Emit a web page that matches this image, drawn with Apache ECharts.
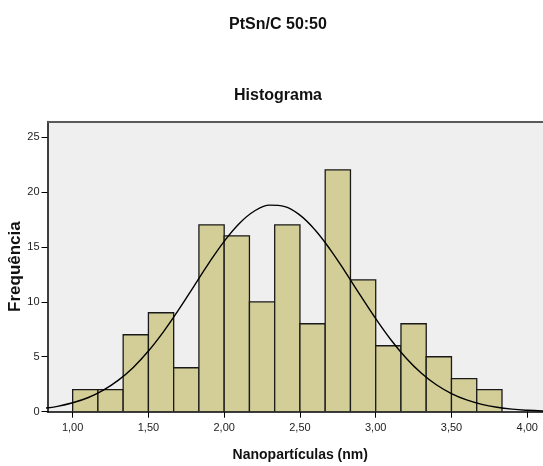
<!DOCTYPE html>
<html><head><meta charset="utf-8">
<script src="https://cdn.jsdelivr.net/npm/echarts@6/dist/echarts.min.js"></script>
<style>html,body{margin:0;padding:0;background:#fff}#c{width:543px;height:466px}</style>
</head><body><div id="c"></div>
<script>
const binStarts = [1.0000,1.1667,1.3333,1.5000,1.6667,1.8333,2.0000,2.1667,2.3333,2.5000,2.6667,2.8333,3.0000,3.1667,3.3333,3.5000,3.6667];
const binWidth = 0.1667;
const frequencies = [2,2,7,9,4,17,16,10,17,8,22,12,6,8,5,3,2];
const curveX = [0.8,0.9,1.0,1.1,1.2,1.3,1.4,1.5,1.6,1.7,1.8,1.9,2.0,2.1,2.2,2.3,2.4,2.5,2.6,2.7,2.8,2.9,3.0,3.1,3.2,3.3,3.4,3.5,3.6,3.7,3.8,3.9,4.0,4.1,4.2];
const curveY = [0.29,0.49,0.81,1.27,1.94,2.85,4.03,5.52,7.29,9.28,11.41,13.54,15.50,17.13,18.26,18.79,18.66,17.88,16.53,14.75,12.70,10.56,8.47,6.55,4.89,3.52,2.45,1.65,1.07,0.67,0.40,0.23,0.13,0.07,0.04];
const xTicks = [1.0,1.5,2.0,2.5,3.0,3.5,4.0];
const yTicks = [0,5,10,15,20,25];

const barData = binStarts.map((s,i)=>[s, s+binWidth, frequencies[i]]);
const curveData = curveX.map((x,i)=>[x, curveY[i]]);

const chart = echarts.init(document.getElementById('c'));
chart.setOption({
  animation:false,
  title:[
    {text:'PtSn/C 50:50', left:273, top:12, textAlign:'center', textStyle:{fontFamily:'Liberation Sans', fontWeight:'bold', fontSize:16, color:'#111'}},
    {text:'Histograma', left:273, top:83, textAlign:'center', textStyle:{fontFamily:'Liberation Sans', fontWeight:'bold', fontSize:16, color:'#111'}}
  ],
  grid:{left:47.5, top:121.5, right:-10, bottom:54.3, show:true, backgroundColor:'#efefef', borderWidth:0, containLabel:false, outerBoundsMode:'none'},
  xAxis:{type:'value', min:0.834, max:4.17,
    name:'Nanopartículas (nm)', nameLocation:'middle', nameGap:36, nameMoveOverlap:false,
    nameTextStyle:{fontFamily:'Liberation Sans', fontWeight:'bold', fontSize:14, color:'#111'},
    axisLine:{show:true, onZero:false, lineStyle:{color:'#000', width:1.5}},
    axisTick:{show:true, customValues:xTicks, length:6, inside:false, lineStyle:{color:'#000'}},
    axisLabel:{customValues:xTicks, formatter:v=>v.toFixed(2).replace('.',','), fontFamily:'Liberation Sans', fontSize:11, color:'#222', margin:11},
    splitLine:{show:false}},
  yAxis:{type:'value', min:0, max:26.4,
    name:'Frequência', nameLocation:'middle', nameGap:24, nameRotate:90, nameMoveOverlap:false,
    nameTextStyle:{fontFamily:'Liberation Sans', fontWeight:'bold', fontSize:17, color:'#111'},
    axisLine:{show:true, lineStyle:{color:'#000', width:1.5}},
    axisTick:{show:true, customValues:yTicks, length:6, lineStyle:{color:'#000'}},
    axisLabel:{customValues:yTicks, fontFamily:'Liberation Sans', fontSize:11, color:'#222', margin:8},
    splitLine:{show:false}},
  series:[
    {type:'custom', data:barData, encode:{x:[0,1], y:2}, clip:true,
     renderItem:function(params, api){
       const p0 = api.coord([api.value(0), api.value(2)]);
       const p1 = api.coord([api.value(1), 0]);
       return {type:'rect', shape:{x:p0[0], y:p0[1], width:p1[0]-p0[0], height:p1[1]-p0[1]},
         style:{fill:'#d3ce97', stroke:'#1a1a1a', lineWidth:1.3}};
     }, z:2},
    {type:'line', data:curveData, smooth:0.4, showSymbol:false, symbol:'none',
     lineStyle:{color:'#000', width:1.4}, z:3, clip:true}
  ],
  graphic:[
    {type:'line', shape:{x1:47.5, y1:122, x2:543, y2:122}, style:{stroke:'#5a5a5a', lineWidth:2}, z:10}
  ]
});
</script></body></html>
